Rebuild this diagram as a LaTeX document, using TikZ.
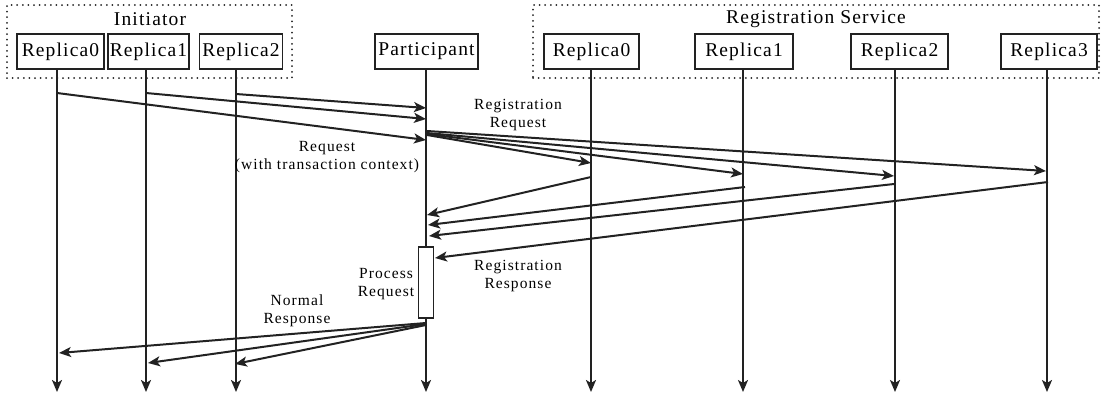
\documentclass[tikz,border=0pt]{standalone}
\usepackage{fontspec}
\setmainfont{Liberation Serif}
\newfontfamily\headfont{Liberation Serif}[LetterSpace=6]
\newfontfamily\labfont{Liberation Serif}[LetterSpace=7]
\usetikzlibrary{arrows.meta}
\definecolor{ink}{HTML}{222222}
\tikzset{
  lifebox/.style={draw=ink, line width=1.1pt, fill=white, minimum height=35pt, inner sep=0pt, font=\headfont\fontsize{19.5}{20}\selectfont},
  groupbox/.style={draw=ink, line width=2pt, line cap=round, dash pattern=on 0pt off 5.6pt, inner sep=0pt},
  grouplabel/.style={font=\headfont\fontsize{19.5}{20}\selectfont, inner sep=0pt},
  msglabel/.style={font=\labfont\fontsize{15.5}{18}\selectfont, align=center, inner sep=0pt},
  tipstyle/.style={-{Stealth[length=12pt,width=10pt,inset=3pt]}},
  lifeline/.style={draw=ink, line width=2pt, tipstyle},
  msg/.style={draw=ink, line width=2pt, tipstyle},
  actbox/.style={draw=ink, line width=1.6pt, fill=white, minimum width=15pt, minimum height=71pt, inner sep=0pt}
}
\begin{document}
\begin{tikzpicture}[x=1pt,y=-1pt]
\useasboundingbox (0,0) rectangle (1105,399);
% groups
\node[groupbox, minimum width=285pt, minimum height=73pt] (gi) at (149.5,41.5) {};
\node[grouplabel] (gil) at (150,19) {Initiator};
\node[groupbox, minimum width=566pt, minimum height=73pt] (gr) at (816,41.5) {};
\node[grouplabel] (grl) at (816,19) {Registration Service};
% boxes
\node[lifebox, minimum width=87pt] (i0) at (60.5,51.5) {Replica0};
\node[lifebox, minimum width=81pt] (i1) at (148.5,51.5) {Replica1};
\node[lifebox, minimum width=83pt] (i2) at (241,51.5) {Replica2};
\node[lifebox, minimum width=103pt] (p) at (426.5,51.5) {Participant};
\node[lifebox, minimum width=95pt] (r0) at (591.5,51.5) {Replica0};
\node[lifebox, minimum width=98pt] (r1) at (744,51.5) {Replica1};
\node[lifebox, minimum width=97pt] (r2) at (899.5,51.5) {Replica2};
\node[lifebox, minimum width=96pt] (r3) at (1049,51.5) {Replica3};
% lifeline ends
\foreach \n/\x in {i0/57,i1/146,i2/236,p/426,r0/591,r1/743,r2/895,r3/1047}{
  \coordinate (\n t) at (\x,69);
  \coordinate (\n b) at (\x,392);
}
\foreach \n in {i0,i1,i2,p,r0,r1,r2,r3}{
  \draw[lifeline] (\n t) -- (\n b);
}
% activation
\node[actbox] (act) at (426,282.5) {};
% requests
\coordinate (q2s) at (236,94);  \coordinate (q2e) at (426,108);
\coordinate (q1s) at (146,93);  \coordinate (q1e) at (426,119);
\coordinate (q0s) at (57,93);   \coordinate (q0e) at (426,140);
\draw[msg] (q2s) -- (q2e);
\draw[msg] (q1s) -- (q1e);
\draw[msg] (q0s) -- (q0e);
% registration requests
\coordinate (g3s) at (427,131); \coordinate (g3e) at (1046,171);
\coordinate (g2s) at (427,133); \coordinate (g2e) at (894,176);
\coordinate (g1s) at (427,134); \coordinate (g1e) at (743,174);
\coordinate (g0s) at (427,135); \coordinate (g0e) at (591,163);
\draw[msg] (g3s) -- (g3e);
\draw[msg] (g2s) -- (g2e);
\draw[msg] (g1s) -- (g1e);
\draw[msg] (g0s) -- (g0e);
% registration responses
\coordinate (s0s) at (591,177);  \coordinate (s0e) at (427,215);
\coordinate (s1s) at (745,187);  \coordinate (s1e) at (428,225);
\coordinate (s2s) at (894,184);  \coordinate (s2e) at (429,236);
\coordinate (s3s) at (1048,182); \coordinate (s3e) at (435,258);
\draw[msg] (s0s) -- (s0e);
\draw[msg] (s1s) -- (s1e);
\draw[msg] (s2s) -- (s2e);
\draw[msg] (s3s) -- (s3e);
% normal responses
\coordinate (n0s) at (426,323); \coordinate (n0e) at (59,353);
\coordinate (n1s) at (426,324); \coordinate (n1e) at (148,363);
\coordinate (n2s) at (426,325); \coordinate (n2e) at (235,364);
\draw[msg] (n0s) -- (n0e);
\draw[msg] (n1s) -- (n1e);
\draw[msg] (n2s) -- (n2e);
% labels
\node[msglabel] (lq) at (327,157) {Request\\(with transaction context)};
\node[msglabel] (lg) at (518,115) {Registration\\Request};
\node[msglabel] (lp) at (386,284) {Process\\Request};
\node[msglabel] (ls) at (518,276) {Registration\\Response};
\node[msglabel] (ln) at (297,311) {Normal\\Response};
\end{tikzpicture}
\end{document}
